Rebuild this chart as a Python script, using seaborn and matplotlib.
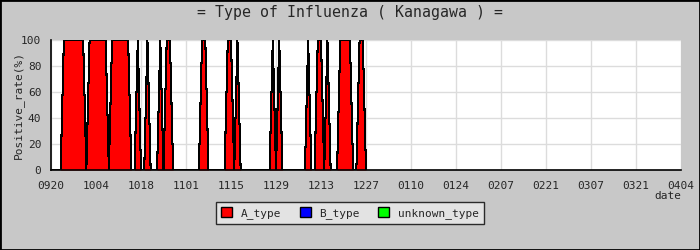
import matplotlib
matplotlib.use("Agg")
import matplotlib.pyplot as plt
from matplotlib.patches import Patch, Rectangle
import seaborn as sns
import pandas as pd

# ---- data (daily positive rate of A_type, day 0 = 09/20) ----
a_type = [
    0, 0, 0, 0, 100, 100, 100,
    100, 100, 100, 100, 0, 100, 100,
    100, 100, 100, 100, 0, 100, 100,
    100, 100, 100, 100, 0, 0, 100,
    0, 0, 100, 0, 0, 0, 100,
    0, 100, 100, 0, 0, 0, 0,
    0, 0, 0, 0, 0, 100, 100,
    0, 0, 0, 0, 0, 0, 100,
    100, 0, 100, 0, 0, 0, 0,
    0, 0, 0, 0, 0, 0, 100,
    0, 100, 0, 0, 0, 0, 0,
    0, 0, 0, 100, 0, 0, 100,
    100, 0, 100, 0, 0, 0, 100,
    100, 100, 100, 0, 0, 100, 100,
    0,
]
tick_labels = ["0920", "1004", "1018", "1101", "1115", "1129", "1213", "1227",
               "0110", "0124", "0207", "0221", "0307", "0321", "0404"]
series_names = ["A_type", "B_type", "unknown_type"]
series_colors = ["#ff0000", "#0000ff", "#00ff00"]

df = pd.DataFrame({"day": range(len(a_type)), "A_type": a_type})

sns.set_style("white")
plt.rcParams["font.family"] = ["DejaVu Sans Mono", "DejaVu Sans"]

bg = "#c8c8c8"
fig = plt.figure(figsize=(7, 2.5), dpi=100, facecolor=bg)
ax = fig.add_axes([51 / 700, 1 - 170 / 250, 630 / 700, 130 / 250])
ax.set_facecolor("white")

ax.fill_between(df["day"], 0, df["A_type"], color=series_colors[0],
                linewidth=0, antialiased=False, zorder=2)
sns.lineplot(data=df, x="day", y="A_type", ax=ax, color="black",
             linewidth=0.75, antialiased=False, zorder=3)

ax.set_xlim(0, 14 * (len(tick_labels) - 1))
ax.set_ylim(0, 100)
ax.set_xticks([14 * i for i in range(len(tick_labels))])
ax.set_xticklabels(tick_labels, fontsize=8)
ax.set_yticks([0, 20, 40, 60, 80, 100])
ax.set_yticks([10, 30, 50, 70, 90], minor=True)
ax.tick_params(axis="both", which="both", direction="in", length=4,
               width=1, color="black", labelsize=8)
ax.tick_params(axis="x", pad=8)
ax.tick_params(axis="y", pad=7)
ax.grid(True, which="major", color="#dcdcdc", linewidth=1)
ax.set_axisbelow(True)
for s in ["top", "right"]:
    ax.spines[s].set_visible(False)
for s in ["left", "bottom"]:
    ax.spines[s].set_color("black")
    ax.spines[s].set_linewidth(1.2)
    ax.spines[s].set_zorder(4)

ax.set_xlabel("date", loc="right", fontsize=8, labelpad=0)
ax.set_ylabel("Positive_rate(%)", fontsize=8, labelpad=-2)

fig.text(0.5, 1 - 13 / 250, "= Type of Influenza ( Kanagawa ) =",
         ha="center", va="center", fontsize=10.7)

handles = [Patch(facecolor=c, edgecolor="black", linewidth=1) for c in series_colors]
leg = fig.legend(handles, series_names, loc="center",
                 bbox_to_anchor=(350 / 700, 1 - 213 / 250), ncol=3,
                 fontsize=8, frameon=True, fancybox=False, shadow=False,
                 handlelength=1.0, handleheight=1.0, columnspacing=1.6,
                 handletextpad=0.8, borderpad=0.45)
leg.get_frame().set_facecolor("#ebebeb")
leg.get_frame().set_edgecolor("black")
leg.get_frame().set_linewidth(1)

fig.patches.append(Rectangle((0, 0), 1, 1, transform=fig.transFigure,
                             fill=False, edgecolor="black", linewidth=2))

fig.savefig("out.png", dpi=100, facecolor=bg)
